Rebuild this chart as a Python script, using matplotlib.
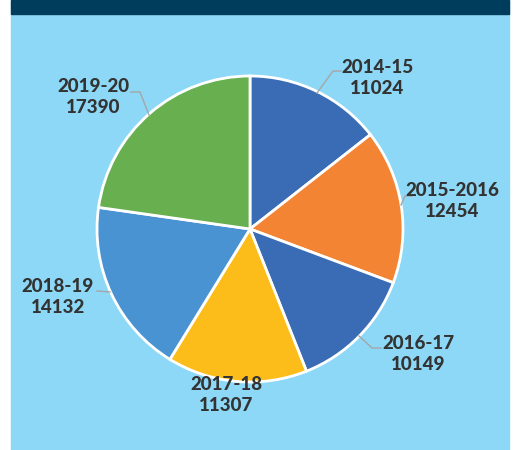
import matplotlib
matplotlib.use("Agg")
import matplotlib.pyplot as plt
from matplotlib.patches import Rectangle

# data
years = ["2014-15", "2015-2016", "2016-17", "2017-18", "2018-19", "2019-20"]
values = [11024, 12454, 10149, 11307, 14132, 17390]
colors = ["#3A6BB5", "#F28434", "#3A6BB5", "#FCBD1A", "#4A93D2", "#68B04F"]

# label placement (pixel coords, y from top) and leader lines
label_pos = [(377, 78), (452, 201), (418, 354), (226, 395), (58, 297), (93, 97)]
leaders = [
    [(317, 93), (333, 71), (341, 71)],
    [(401, 205), (405, 196), (412, 196)],
    [(359, 336), (372, 348), (381, 348)],
    None,
    [(97, 291), (110, 292)],
    [(131, 92), (140, 92), (149, 115)],
]

W, H = 516, 450
fig = plt.figure(figsize=(W / 100, H / 100), dpi=100, facecolor="white")
ax = fig.add_axes([0, 0, 1, 1])

# background panel and top bar
ax.add_patch(Rectangle((11, 0), 498, H, color="#8CD8F6", zorder=0))
ax.add_patch(Rectangle((11, H - 14), 498, 14, color="#003D5C", zorder=0))

ax.pie(values, colors=colors, startangle=90, counterclock=False,
       center=(250, H - 229), radius=153, frame=True,
       wedgeprops=dict(edgecolor="white", linewidth=2))
ax.set_xlim(0, W)
ax.set_ylim(0, H)
ax.set_aspect("auto")
ax.axis("off")

for yr, v, (x, y), ld in zip(years, values, label_pos, leaders):
    ax.text(x, H - y, f"{yr}\n{v}", ha="center", va="center",
            fontsize=13.5, fontweight="black", family="Lato", color="#333333",
            linespacing=1.35, zorder=5)
    if ld:
        xs = [p[0] for p in ld]
        ys = [H - p[1] for p in ld]
        ax.plot(xs, ys, color="#A6A6A6", lw=1, zorder=4)

fig.savefig("out.png", dpi=100, facecolor="white")
